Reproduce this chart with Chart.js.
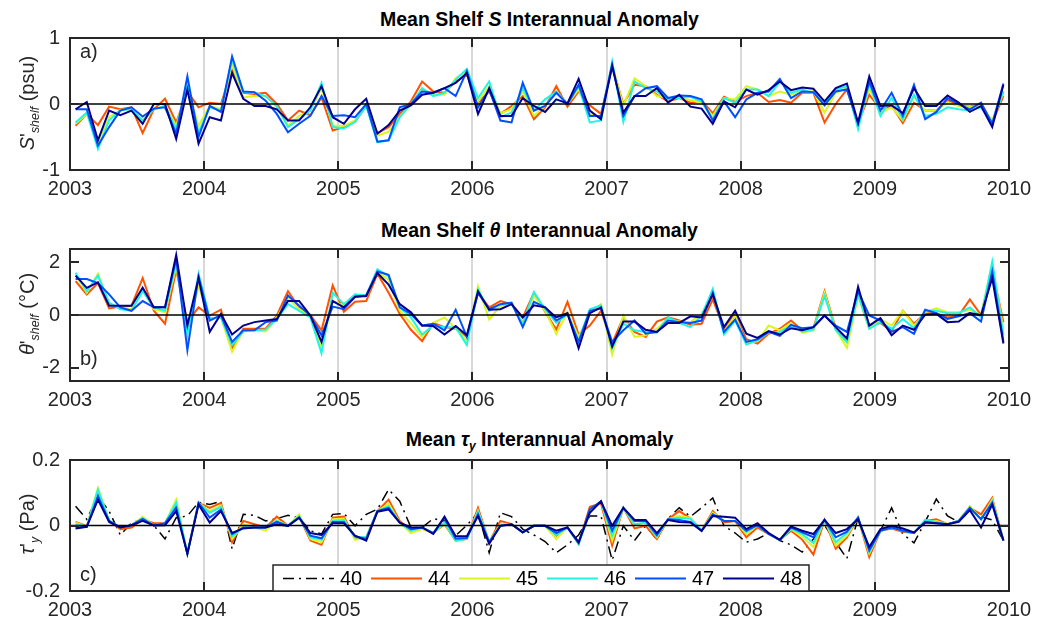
<!DOCTYPE html>
<html>
<head>
<meta charset="utf-8">
<script src="https://cdn.jsdelivr.net/npm/chart.js@4.4.0/dist/chart.umd.min.js"></script>
<style>
  body { margin: 0; background: #fff; font-family: "Liberation Sans", Arial, Helvetica, sans-serif; color: #262626; }
  #wrap { position: relative; width: 1050px; height: 623px; overflow: hidden; }
  canvas { position: absolute; left: 0; }
  .title { position: absolute; left: 70px; width: 939px; text-align: center; font-weight: bold; font-size: 19.5px; line-height: 22px; color: #000; }
  .ylab { position: absolute; left: 29px; font-size: 20px; white-space: nowrap; transform: translate(-50%, -50%) rotate(-90deg); }
  .tag { position: absolute; left: 80px; font-size: 20px; line-height: 22px; }
  sub { font-size: 0.62em; vertical-align: -0.35em; }
</style>
</head>
<body>
<div id="wrap">
  <div class="title" style="top:8px">Mean Shelf <i>S</i> Interannual Anomaly</div>
  <div class="title" style="top:219px">Mean Shelf <i>θ</i> Interannual Anomaly</div>
  <div class="title" style="top:428px">Mean <i>τ<sub>y</sub></i> Interannual Anomaly</div>

  <canvas id="salt" width="1050" height="186" style="top:16px"></canvas>
  <canvas id="theta" width="1050" height="186" style="top:227px"></canvas>
  <canvas id="tau" width="1050" height="185" style="top:438px"></canvas>

  <div class="ylab" style="top:103px"><i>S</i>'<sub><i>shelf</i></sub> (psu)</div>
  <div class="ylab" style="top:314px"><i>θ</i>'<sub><i>shelf</i></sub> (°C)</div>
  <div class="ylab" style="top:524px"><i>τ</i>'<sub><i>y</i></sub> (Pa)</div>

  <div class="tag" style="top:40px">a)</div>
  <div class="tag" style="top:347px">b)</div>
  <div class="tag" style="top:563px">c)</div>
</div>

<script>
// monthly anomalies, Jan 2003 .. Dec 2009 (one row per year)
const years = [2003, 2004, 2005, 2006, 2007, 2008, 2009, 2010];
const runLabels = ['40', '44', '45', '46', '47', '48'];
const saltTicks = [-1, 0, 1];
const thetaTicks = [-2, 0, 2];
const tauTicks = [-0.2, 0, 0.2];

const salt44 = [
  -0.33,-0.15,-0.32,-0.04,-0.08,-0.05,-0.44,-0.08,0.08,-0.28,0.19,-0.05,
  0.02,0.00,0.52,0.17,0.15,0.17,0.00,-0.25,-0.10,-0.17,0.10,-0.40,
  -0.35,-0.27,-0.03,-0.44,-0.35,-0.15,0.04,0.34,0.19,0.17,0.34,0.44,
  0.02,0.19,-0.15,-0.03,0.12,-0.23,-0.05,0.27,-0.04,0.19,-0.02,-0.15,
  0.57,0.00,0.29,0.27,0.14,0.04,0.09,0.02,0.05,-0.14,0.11,0.03,
  0.12,0.17,0.03,0.06,0.02,0.17,0.17,-0.28,0.00,0.22,-0.30,0.14,
  -0.08,-0.03,-0.29,0.02,-0.10,-0.10,0.06,-0.02,-0.04,0.00,-0.28,0.12
];
const salt45 = [
  -0.30,-0.15,-0.58,-0.20,-0.09,-0.08,-0.25,-0.08,-0.03,-0.33,0.24,-0.33,
  -0.03,-0.08,0.60,0.10,0.12,0.12,-0.05,-0.33,-0.18,-0.10,0.24,-0.33,
  -0.33,-0.25,-0.03,-0.48,-0.42,-0.20,0.00,0.22,0.15,0.14,0.39,0.50,
  0.04,0.27,-0.14,-0.08,0.19,-0.18,-0.03,0.19,0.00,0.22,-0.15,-0.20,
  0.60,-0.03,0.39,0.27,0.12,0.09,0.09,0.06,0.02,-0.18,0.09,0.07,
  0.27,0.22,0.12,0.19,0.14,0.19,0.19,-0.13,0.17,0.24,-0.33,0.24,
  -0.13,-0.05,-0.25,0.12,-0.10,-0.10,0.02,-0.03,-0.05,-0.02,-0.25,0.17
];
const salt46 = [
  -0.28,-0.13,-0.68,-0.25,-0.09,-0.08,-0.25,-0.08,-0.03,-0.38,0.29,-0.43,
  -0.05,-0.10,0.67,0.18,0.17,0.12,-0.03,-0.35,-0.23,-0.10,0.32,-0.35,
  -0.37,-0.27,-0.03,-0.58,-0.55,-0.20,0.00,0.24,0.12,0.17,0.37,0.53,
  0.09,0.34,-0.20,-0.13,0.24,-0.10,0.07,0.19,0.01,0.27,-0.28,-0.25,
  0.64,-0.27,0.34,0.24,0.19,0.07,0.09,0.11,0.04,-0.23,0.09,0.02,
  0.22,0.22,0.12,0.34,0.17,0.22,0.17,0.00,0.22,0.27,-0.38,0.32,
  -0.18,0.09,-0.23,0.14,-0.18,-0.15,-0.05,-0.08,-0.10,-0.05,-0.28,0.19
];
const salt47 = [
  -0.08,-0.08,-0.63,-0.35,-0.10,-0.05,-0.19,-0.07,-0.05,-0.45,0.42,-0.50,
  -0.03,-0.12,0.72,0.19,0.18,0.05,-0.15,-0.43,-0.30,-0.18,0.12,-0.18,
  -0.17,-0.20,0.00,-0.57,-0.55,-0.05,0.00,0.19,0.17,0.24,0.12,0.50,
  -0.05,0.22,-0.25,-0.28,0.32,-0.10,-0.03,0.17,0.00,0.29,-0.18,-0.18,
  0.60,-0.18,0.12,0.24,0.27,0.09,0.13,0.12,0.07,-0.25,0.04,-0.20,
  0.07,0.17,0.19,0.38,0.09,0.19,0.18,-0.02,0.19,0.22,-0.30,0.34,
  -0.10,0.17,-0.18,0.29,-0.23,-0.12,0.09,0.00,-0.08,0.02,-0.30,0.31
];
const salt48 = [
  -0.08,0.03,-0.55,-0.10,-0.17,-0.10,-0.30,0.00,0.00,-0.53,0.22,-0.60,
  -0.20,-0.25,0.47,0.08,-0.03,-0.03,-0.08,-0.25,-0.25,-0.05,0.27,-0.20,
  -0.30,-0.08,0.08,-0.45,-0.32,-0.10,-0.02,0.14,0.17,0.24,0.32,0.47,
  -0.15,0.24,-0.18,-0.18,0.09,-0.03,-0.12,0.07,0.01,0.38,-0.10,-0.23,
  0.57,-0.13,0.12,0.12,0.24,0.02,0.14,-0.04,-0.07,-0.30,0.04,-0.05,
  0.22,0.14,0.21,0.34,0.21,0.25,0.23,0.04,0.24,0.31,-0.28,0.42,
  -0.03,-0.02,-0.14,0.24,-0.03,-0.03,0.13,0.02,-0.12,-0.03,-0.35,0.29
];

const theta44 = [
  1.28,0.78,1.21,0.25,0.32,0.35,1.40,0.16,-0.33,1.71,-0.27,0.29,
  -0.02,0.20,-1.26,-0.52,-0.52,-0.52,-0.02,0.90,0.29,0.00,-0.58,1.12,
  0.12,0.50,0.53,1.56,0.84,0.04,-0.56,-0.99,-0.30,-0.46,-0.52,-0.83,
  0.84,0.29,0.53,0.41,-0.09,0.84,0.12,-0.55,0.50,-0.74,-0.40,0.16,
  -1.08,-0.09,-0.64,-0.83,-0.25,-0.09,-0.21,-0.37,-0.33,0.59,-0.52,0.04,
  -0.92,-1.08,-0.71,-0.52,-0.21,-0.58,-0.50,0.90,-0.50,-1.02,0.84,-0.40,
  -0.30,-0.62,0.16,-0.33,0.07,0.07,-0.09,-0.02,0.59,0.00,1.71,-0.27
];
const theta45 = [
  1.52,0.84,1.56,0.41,0.29,0.22,0.97,0.22,0.10,1.83,-0.52,1.09,
  -0.15,-0.09,-1.39,-0.58,-0.58,-0.62,-0.09,0.66,0.22,-0.02,-1.26,0.53,
  0.35,0.74,0.69,1.62,1.34,0.16,-0.33,-0.83,-0.30,-0.09,-0.52,-0.96,
  1.09,-0.17,0.35,0.41,-0.25,0.72,0.16,-0.71,0.10,-0.83,0.04,0.41,
  -1.49,-0.02,-0.83,-0.77,-0.52,-0.15,-0.25,-0.27,0.04,0.84,-0.64,-0.02,
  -1.08,-0.99,-0.40,-0.58,-0.30,-0.67,-0.58,0.84,-0.55,-1.24,0.72,-0.52,
  -0.15,-0.40,0.16,-0.40,0.10,0.25,0.10,0.10,0.20,0.00,1.96,-0.55
];
const theta46 = [
  1.60,0.90,1.49,0.47,0.22,0.16,0.90,0.29,0.16,2.00,-0.77,1.56,
  -0.12,-0.09,-1.14,-0.62,-0.58,-0.55,-0.15,0.41,0.16,-0.09,-1.45,0.84,
  0.41,0.78,0.74,1.73,1.46,0.29,-0.09,-0.74,-0.40,-0.46,-0.46,-1.14,
  0.97,0.16,0.41,0.41,-0.33,0.87,0.22,-0.30,0.04,-0.96,0.22,0.37,
  -1.26,-0.33,-0.58,-0.64,-0.67,-0.09,-0.30,-0.46,-0.02,0.99,-0.74,-0.21,
  -1.12,-0.96,-0.67,-0.64,-0.40,-0.62,-0.55,0.72,-0.58,-1.02,0.78,-0.52,
  -0.27,-0.52,-0.15,-0.50,0.16,0.16,0.07,0.07,0.29,-0.09,2.02,-0.77
];
const theta47 = [
  1.36,1.36,1.21,0.78,0.29,0.16,0.53,0.29,0.29,2.14,-1.33,1.46,
  -0.21,0.00,-1.02,-0.58,-0.58,-0.27,-0.21,0.74,0.35,-0.02,-0.77,0.32,
  0.22,0.69,0.74,1.65,1.52,0.29,0.04,-0.40,-0.33,-0.58,0.20,-0.83,
  0.84,0.22,0.41,0.47,-0.46,0.50,0.29,-0.21,0.04,-1.02,0.16,0.25,
  -1.02,-0.58,-0.21,-0.71,-0.64,-0.21,-0.27,-0.30,-0.21,0.84,-0.64,-0.17,
  -1.02,-0.92,-0.64,-0.79,-0.37,-0.50,-0.46,-0.02,-0.40,-0.64,0.90,-0.02,
  -0.21,-0.64,-0.46,-0.71,0.20,0.07,-0.15,-0.05,0.07,-0.25,1.65,-1.02
];
const theta48 = [
  1.49,1.03,1.24,0.35,0.35,0.35,1.03,0.29,0.29,2.27,-0.40,1.40,
  -0.64,0.04,-0.74,-0.40,-0.27,-0.21,-0.15,0.53,0.53,-0.02,-1.02,0.53,
  0.29,0.69,0.72,1.59,1.15,0.41,0.10,-0.40,-0.42,-0.74,-0.42,-0.77,
  0.90,0.20,0.22,0.41,-0.09,0.37,0.29,-0.09,0.07,-1.26,0.07,0.29,
  -1.20,-0.25,-0.25,-0.56,-0.64,-0.30,-0.30,-0.05,-0.09,0.78,-0.46,0.16,
  -0.71,-0.87,-0.61,-0.74,-0.50,-0.58,-0.46,-0.02,-0.46,-0.89,1.07,-0.40,
  -0.12,-0.77,-0.40,-0.56,0.01,0.04,-0.27,-0.25,0.07,0.00,1.40,-1.08
];

const tau40 = [
  0.059,0.019,0.089,0.044,-0.029,0.007,0.020,0.000,-0.041,0.024,0.029,0.071,
  0.064,0.074,-0.071,0.034,0.031,0.014,0.021,0.031,0.024,-0.016,-0.026,0.034,
  0.037,-0.001,0.034,0.050,0.110,0.074,-0.006,-0.006,0.021,0.014,-0.031,0.001,
  0.039,-0.083,0.039,0.027,-0.011,-0.029,-0.049,-0.083,-0.059,-0.029,0.029,0.029,
  -0.106,-0.001,-0.046,-0.001,-0.043,0.021,0.054,0.027,0.054,0.084,-0.001,-0.023,
  -0.051,-0.041,-0.023,-0.046,-0.059,-0.081,-0.041,0.001,-0.051,-0.101,0.024,-0.081,
  -0.016,0.054,-0.026,-0.053,0.011,0.081,0.029,0.011,0.049,0.027,0.017,-0.046
];
const tau44 = [
  0.011,-0.002,0.100,0.014,-0.011,-0.006,0.018,0.007,0.007,0.064,-0.086,0.069,
  0.054,0.069,-0.051,0.014,0.004,-0.006,0.027,-0.001,0.029,-0.046,-0.059,0.024,
  0.027,-0.041,-0.036,0.044,0.079,0.014,-0.016,-0.006,-0.023,0.004,-0.046,-0.041,
  0.054,-0.051,0.014,0.004,-0.021,-0.001,-0.001,-0.031,-0.006,-0.056,0.057,0.067,
  -0.061,0.054,-0.009,-0.001,-0.041,0.019,0.044,0.021,-0.016,0.044,0.009,0.014,
  -0.036,-0.006,-0.026,-0.044,-0.016,-0.043,-0.089,0.017,-0.071,-0.036,0.024,-0.096,
  -0.016,-0.009,-0.019,-0.023,0.014,0.019,0.004,0.014,0.054,0.034,0.084,-0.046
];
const tau45 = [
  0.009,-0.004,0.114,0.014,-0.006,0.001,0.027,0.000,0.007,0.079,-0.086,0.069,
  0.044,0.061,-0.041,0.004,-0.006,-0.016,0.017,-0.001,0.034,-0.041,-0.051,0.019,
  0.021,-0.044,-0.036,0.044,0.067,0.009,-0.023,-0.011,-0.023,0.007,-0.046,-0.041,
  0.045,-0.051,0.004,0.004,-0.021,-0.001,-0.001,-0.041,-0.006,-0.056,0.044,0.074,
  -0.046,0.054,0.001,0.009,-0.036,0.019,0.029,0.024,-0.016,0.039,0.014,0.014,
  -0.026,0.001,-0.026,-0.044,-0.011,-0.033,-0.066,0.017,-0.061,-0.031,0.024,-0.086,
  -0.016,-0.006,-0.016,-0.023,0.011,0.014,0.004,0.014,0.059,0.019,0.079,-0.046
];
const tau46 = [
  0.004,-0.004,0.109,0.014,-0.006,0.001,0.022,0.000,0.007,0.069,-0.086,0.069,
  0.039,0.057,-0.033,-0.006,-0.006,-0.006,0.014,-0.001,0.029,-0.036,-0.043,0.014,
  0.017,-0.036,-0.036,0.044,0.059,0.009,-0.016,-0.006,-0.023,0.009,-0.046,-0.041,
  0.042,-0.051,0.001,0.004,-0.021,-0.001,-0.001,-0.029,-0.006,-0.056,0.039,0.074,
  -0.031,0.054,0.004,0.009,-0.033,0.019,0.024,0.021,-0.016,0.034,0.014,0.014,
  -0.019,0.001,-0.026,-0.044,-0.009,-0.026,-0.053,0.017,-0.051,-0.023,0.024,-0.081,
  -0.016,-0.006,-0.016,-0.023,0.017,0.011,0.004,0.014,0.054,0.019,0.074,-0.046
];
const tau47 = [
  -0.006,-0.004,0.089,0.014,-0.006,0.001,0.020,0.000,0.007,0.054,-0.086,0.069,
  0.024,0.049,-0.026,-0.006,-0.006,-0.006,0.011,-0.001,0.024,-0.031,-0.039,0.011,
  0.011,-0.033,-0.041,0.044,0.054,0.009,-0.011,-0.006,-0.023,0.024,-0.040,-0.038,
  0.034,-0.051,-0.001,0.004,-0.021,-0.001,-0.001,-0.023,-0.006,-0.054,0.049,0.074,
  -0.016,0.054,0.014,0.014,-0.029,0.019,0.017,0.011,-0.016,0.034,0.014,0.014,
  -0.016,0.001,-0.026,-0.044,-0.006,-0.021,-0.036,0.017,-0.036,-0.019,0.024,-0.076,
  -0.016,-0.006,-0.016,-0.023,0.011,0.007,0.004,0.014,0.054,0.019,0.069,-0.046
];
const tau48 = [
  -0.009,-0.004,0.079,0.011,-0.006,0.001,0.014,0.000,0.001,0.044,-0.086,0.064,
  0.009,0.044,-0.023,-0.009,-0.006,-0.006,0.004,-0.001,0.024,-0.023,-0.029,0.007,
  0.007,-0.031,-0.046,0.042,0.049,0.009,-0.006,-0.006,-0.026,0.027,-0.033,-0.033,
  0.029,-0.056,-0.001,0.004,-0.021,-0.001,-0.001,-0.016,-0.006,-0.051,0.039,0.074,
  -0.001,0.054,0.017,0.017,-0.023,0.017,0.011,0.009,-0.016,0.029,0.027,0.024,
  -0.011,0.007,-0.023,-0.044,-0.003,-0.016,-0.026,0.017,-0.023,-0.011,0.019,-0.066,
  -0.011,-0.001,-0.009,-0.021,0.009,0.007,0.004,0.011,0.047,-0.006,0.064,-0.046
];

// line colours per run
const runColors = {
  '40': '#000000',
  '44': '#ff5200',
  '45': '#dcf51e',
  '46': '#1ef5e6',
  '47': '#0050ff',
  '48': '#00008f'
};

// mid-month positions in decimal years
const monthTimes = salt44.map((_, i) => years[0] + (i + 0.5) / 12);

const AXIS = '#262626';
const FONT = '"Liberation Sans", Arial, Helvetica, sans-serif';

// MATLAB style box: frame, inward ticks, zero line on top of the data
const framePlugin = {
  id: 'frame',
  afterDatasetsDraw(chart) {
    const { ctx, chartArea: a, scales: { x, y } } = chart;
    ctx.save();
    const y0 = y.getPixelForValue(0);
    ctx.strokeStyle = '#000';
    ctx.lineWidth = 1.6;
    ctx.beginPath();
    ctx.moveTo(a.left, y0);
    ctx.lineTo(a.right, y0);
    ctx.stroke();

    ctx.strokeStyle = AXIS;
    ctx.lineWidth = 2;
    ctx.beginPath();
    x.ticks.forEach(t => {
      const px = Math.round(x.getPixelForValue(t.value));
      ctx.moveTo(px, a.top); ctx.lineTo(px, a.top + 9);
      ctx.moveTo(px, a.bottom); ctx.lineTo(px, a.bottom - 9);
    });
    y.ticks.forEach(t => {
      const py = Math.round(y.getPixelForValue(t.value));
      ctx.moveTo(a.left, py); ctx.lineTo(a.left + 9, py);
      ctx.moveTo(a.right, py); ctx.lineTo(a.right - 9, py);
    });
    ctx.stroke();
    ctx.strokeRect(a.left, a.top, a.right - a.left, a.bottom - a.top);
    ctx.restore();
  }
};

// boxed legend sitting on the bottom edge of the lower panel
const boxLegend = {
  id: 'boxLegend',
  afterDraw(chart) {
    const { ctx, chartArea: a } = chart;
    const left = a.left + 203, right = a.left + 739;
    const top = a.bottom - 26, mid = a.bottom - 12.5;
    ctx.save();
    ctx.fillStyle = '#fff';
    ctx.fillRect(left, top, right - left, a.bottom - top);
    ctx.strokeStyle = AXIS;
    ctx.lineWidth = 1.5;
    ctx.strokeRect(left, top, right - left, a.bottom - top);
    ctx.font = '20px ' + FONT;
    ctx.textBaseline = 'middle';
    ctx.fillStyle = '#000';
    chart.data.datasets.forEach((ds, k) => {
      const x0 = left + 10 + k * 88;
      ctx.strokeStyle = ds.borderColor;
      ctx.lineWidth = ds.borderWidth;
      ctx.setLineDash(ds.borderDash || []);
      ctx.beginPath();
      ctx.moveTo(x0, mid);
      ctx.lineTo(x0 + 51, mid);
      ctx.stroke();
      ctx.setLineDash([]);
      ctx.fillText(ds.label, x0 + 57, mid + 1);
    });
    ctx.restore();
  }
};

function makePanel(id, yMin, yMax, yTicks, series, withLegend) {
  const datasets = series.map((s, k) => ({
    label: s.label,
    data: s.values.map((v, i) => ({ x: monthTimes[i], y: v })),
    borderColor: runColors[s.label],
    borderWidth: s.label === '40' ? 1.5 : 2,
    borderDash: s.label === '40' ? [11, 5, 2, 5] : [],
    pointRadius: 0,
    tension: 0,
    order: series.length - k
  }));

  new Chart(document.getElementById(id), {
    type: 'line',
    data: { datasets },
    options: {
      responsive: false,
      animation: false,
      layout: { padding: { top: 0, right: 41, left: 0, bottom: 0 } },
      plugins: { legend: { display: false }, tooltip: { enabled: false } },
      scales: {
        x: {
          type: 'linear',
          min: years[0],
          max: years[years.length - 1],
          afterBuildTicks: s => { s.ticks = years.map(v => ({ value: v })); },
          afterFit: s => { s.height = 32; },
          border: { display: false },
          grid: {
            drawTicks: false,
            lineWidth: 2,
            color: c => (c.tick && (c.tick.value === years[0] || c.tick.value === years[years.length - 1])) ? 'rgba(0,0,0,0)' : '#d9d9d9'
          },
          ticks: {
            autoSkip: false,
            maxRotation: 0,
            padding: 7,
            color: AXIS,
            font: { family: FONT, size: 20 },
            callback: v => String(v)
          }
        },
        y: {
          min: yMin,
          max: yMax,
          afterBuildTicks: s => { s.ticks = yTicks.map(v => ({ value: v })); },
          afterFit: s => { s.width = 70; },
          border: { display: false },
          grid: { display: false, drawTicks: false },
          ticks: {
            padding: 10,
            color: AXIS,
            font: { family: FONT, size: 20 },
            callback: v => String(v)
          }
        }
      }
    },
    plugins: withLegend ? [framePlugin, boxLegend] : [framePlugin]
  });
}

makePanel('salt', -1, 1, saltTicks, [
  { label: '44', values: salt44 },
  { label: '45', values: salt45 },
  { label: '46', values: salt46 },
  { label: '47', values: salt47 },
  { label: '48', values: salt48 }
], false);

makePanel('theta', -2.5, 2.5, thetaTicks, [
  { label: '44', values: theta44 },
  { label: '45', values: theta45 },
  { label: '46', values: theta46 },
  { label: '47', values: theta47 },
  { label: '48', values: theta48 }
], false);

makePanel('tau', -0.2, 0.2, tauTicks, [
  { label: runLabels[0], values: tau40 },
  { label: runLabels[1], values: tau44 },
  { label: runLabels[2], values: tau45 },
  { label: runLabels[3], values: tau46 },
  { label: runLabels[4], values: tau47 },
  { label: runLabels[5], values: tau48 }
], true);
</script>
</body>
</html>
